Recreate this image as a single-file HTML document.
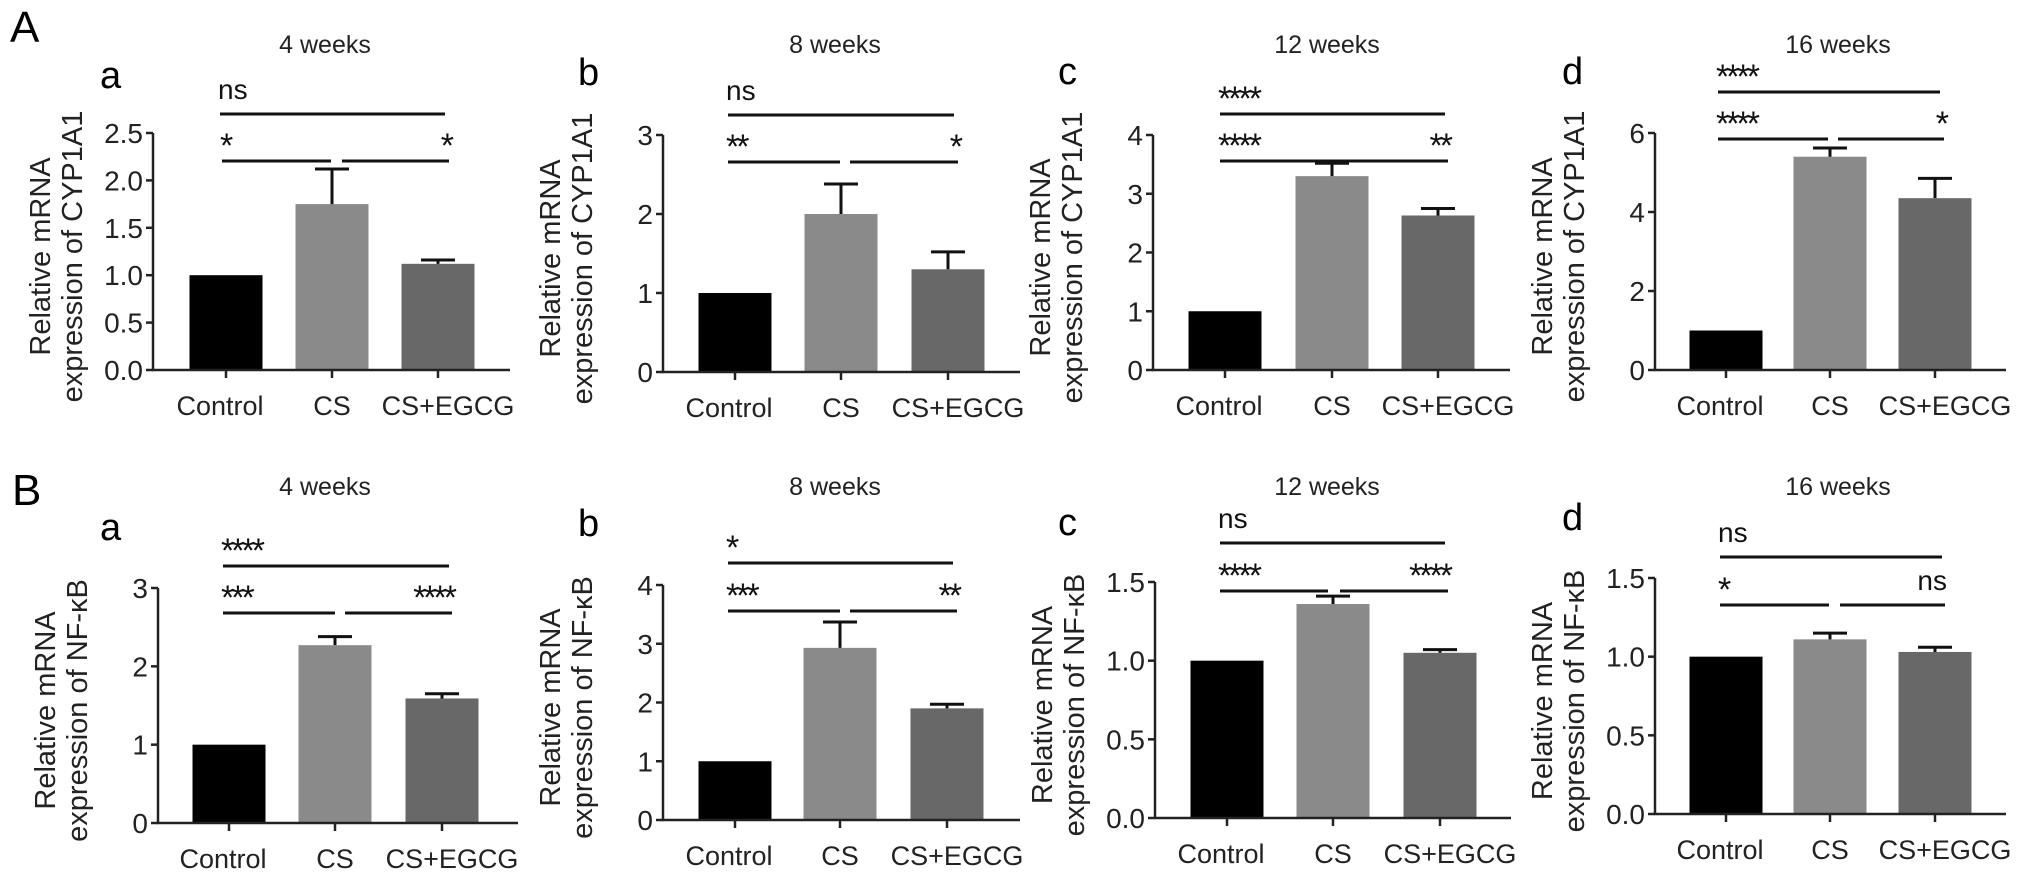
<!DOCTYPE html>
<html><head><meta charset="utf-8">
<style>
html,body{margin:0;padding:0;background:#fff;}
svg{display:block;font-family:"Liberation Sans",Arial,sans-serif;}
</style></head>
<body>
<svg id="fig" width="2032" height="876" viewBox="0 0 2032 876" xmlns="http://www.w3.org/2000/svg">
<text x="10" y="42" font-size="44">A</text>
<text x="12" y="505" font-size="44">B</text>
</svg>
<script>
const categories = ["Control", "CS", "CS+EGCG"];
const barColors = ["#000000", "#8a8a8a", "#686868"];
// values
const valsAa = [1.0, 1.75, 1.12]; const errAa = [0, 0.37, 0.04];
const valsAb = [1.0, 2.0, 1.3];   const errAb = [0, 0.38, 0.22];
const valsAc = [1.0, 3.3, 2.63];  const errAc = [0, 0.22, 0.12];
const valsAd = [1.0, 5.4, 4.35];  const errAd = [0, 0.22, 0.5];
const valsBa = [1.0, 2.27, 1.59]; const errBa = [0, 0.11, 0.06];
const valsBb = [1.0, 2.93, 1.9];  const errBb = [0, 0.44, 0.07];
const valsBc = [1.0, 1.36, 1.05]; const errBc = [0, 0.05, 0.02];
const valsBd = [1.0, 1.11, 1.03]; const errBd = [0, 0.04, 0.03];
// ticks
const ticksAa = ["0.0","0.5","1.0","1.5","2.0","2.5"];
const ticksAb = ["0","1","2","3"];
const ticksAc = ["0","1","2","3","4"];
const ticksAd = ["0","2","4","6"];
const ticksBa = ["0","1","2","3"];
const ticksBb = ["0","1","2","3","4"];
const ticksBc = ["0.0","0.5","1.0","1.5"];
const ticksBd = ["0.0","0.5","1.0","1.5"];
// significance labels [top, left, right]
const sigAa = ["ns","*","*"];
const sigAb = ["ns","**","*"];
const sigAc = ["****","****","**"];
const sigAd = ["****","****","*"];
const sigBa = ["****","***","****"];
const sigBb = ["*","***","**"];
const sigBc = ["ns","****","****"];
const sigBd = ["ns","*","ns"];
const titles = ["4 weeks","8 weeks","12 weeks","16 weeks"];
const letters = ["a","b","c","d"];

const NS = "http://www.w3.org/2000/svg";
const svg = document.getElementById('fig');
function mk(tag, attrs, parent){
  const e = document.createElementNS(NS, tag);
  for (const k in attrs) e.setAttribute(k, attrs[k]);
  (parent||svg).appendChild(e);
  return e;
}

const panels = [
 {id:"Aa",vals:valsAa,err:errAa,ticks:ticksAa,sig:sigAa,ax:153,yt:133,y0:370,cx:[226,332,438],end:510,l1:114,l2:161,gap:true,l2x:[222,331,342,449],l1x:[220,445],title:0,gene:"CYP1A1",ty:53,tx:325,ly:88,lx:100},
 {id:"Ab",vals:valsAb,err:errAb,ticks:ticksAb,sig:sigAb,ax:663,yt:135,y0:372,cx:[735,841,948],end:1020,l1:115,l2:162,gap:true,l2x:[728,840,850,958],l1x:[728,954],title:1,gene:"CYP1A1",ty:53,tx:835,ly:85,lx:578},
 {id:"Ac",vals:valsAc,err:errAc,ticks:ticksAc,sig:sigAc,ax:1153,yt:135,y0:370,cx:[1225,1332,1438],end:1510,l1:114,l2:161,gap:false,l2x:[1220,1448],l1x:[1220,1445],title:2,gene:"CYP1A1",ty:53,tx:1327,ly:84,lx:1058},
 {id:"Ad",vals:valsAd,err:errAd,ticks:ticksAd,sig:sigAd,ax:1655,yt:133,y0:370,cx:[1726,1830,1935],end:2006,l1:92,l2:139,gap:true,l2x:[1718,1828,1838,1944],l1x:[1718,1940],title:3,gene:"CYP1A1",ty:53,tx:1838,ly:84,lx:1562},
 {id:"Ba",vals:valsBa,err:errBa,ticks:ticksBa,sig:sigBa,ax:158,yt:588,y0:823,cx:[229,335,442],end:518,l1:566,l2:613,gap:true,l2x:[223,335,345,452],l1x:[223,449],title:0,gene:"NF-κB",ty:495,tx:325,ly:540,lx:100},
 {id:"Bb",vals:valsBb,err:errBb,ticks:ticksBb,sig:sigBb,ax:663,yt:585,y0:820,cx:[735,840,947],end:1020,l1:563,l2:611,gap:true,l2x:[728,840,850,957],l1x:[728,953],title:1,gene:"NF-κB",ty:495,tx:835,ly:536,lx:578},
 {id:"Bc",vals:valsBc,err:errBc,ticks:ticksBc,sig:sigBc,ax:1155,yt:582,y0:818,cx:[1227,1333,1440],end:1511,l1:543,l2:591,gap:true,l2x:[1220,1328,1340,1448],l1x:[1220,1445],title:2,gene:"NF-κB",ty:495,tx:1327,ly:535,lx:1058},
 {id:"Bd",vals:valsBd,err:errBd,ticks:ticksBd,sig:sigBd,ax:1655,yt:578,y0:814,cx:[1726,1830,1935],end:2006,l1:557,l2:605,gap:true,l2x:[1720,1829,1840,1945],l1x:[1720,1942],title:3,gene:"NF-κB",ty:495,tx:1838,ly:530,lx:1562}
];

panels.forEach(p=>{
  const g = mk('g',{});
  
  
  const tmax = parseFloat(p.ticks[p.ticks.length-1]);
  const y = v => p.y0 - (v/tmax)*(p.y0-p.yt);
  const bw = 73;
  const tt = mk('text',{x:p.tx, y:p.ty, 'font-size':25,'text-anchor':'middle',fill:'#222'},g);
  tt.textContent = titles[p.title];
  
  
  const lt = mk('text',{x:p.lx,y:p.ly,'font-size':38},g);
  lt.textContent = letters[p.title];
  
  
  p.vals.forEach((v,i)=>{
    const r = mk('rect',{x:p.cx[i]-bw/2,y:y(v),width:bw,height:p.y0-y(v),fill:barColors[i]},g);
    
    
    if (p.err[i]>0){
      const e = mk('path',{d:`M${p.cx[i]} ${y(v)} V${y(v+p.err[i])} M${p.cx[i]-17} ${y(v+p.err[i])} H${p.cx[i]+17}`,stroke:'#111','stroke-width':3,fill:'none'},g);
      
      
    }
  });
  const axes = mk('path',{d:`M${p.ax} ${p.yt} V${p.y0} H${p.end}`,stroke:'#222','stroke-width':2.5,fill:'none'},g);
  
  
  p.ticks.forEach(t=>{
    const ty = y(parseFloat(t));
    mk('line',{x1:p.ax-7,x2:p.ax,y1:ty,y2:ty,stroke:'#222','stroke-width':2.5},g);
    const tl = mk('text',{x:p.ax-10,y:ty+10,'font-size':28,'text-anchor':'end',fill:'#222'},g);
    tl.textContent = t;
    
    
  });
  categories.forEach((c,i)=>{
    mk('line',{x1:p.cx[i],x2:p.cx[i],y1:p.y0,y2:p.y0+8,stroke:'#222','stroke-width':2.5},g);
    const cl = mk('text',{x:p.cx[i]+(i===0?-6:(i===2?10:0)),y:p.y0+45,'font-size':27,'text-anchor':'middle',fill:'#222'},g);
    cl.textContent = c;
    
    
  });
  const cy = (p.yt+p.y0)/2 + 5;
  const yt = mk('text',{transform:`translate(${p.ax-103},${cy}) rotate(-90)`,'font-size':29,'text-anchor':'middle',fill:'#222'},g);
  const s1 = mk('tspan',{x:0,dy:0},yt); s1.textContent = "Relative mRNA";
  const s2 = mk('tspan',{x:0,dy:32},yt); s2.textContent = "expression of "+p.gene;
  
  
  const b1 = mk('line',{x1:p.l1x[0],x2:p.l1x[1],y1:p.l1,y2:p.l1,stroke:'#111','stroke-width':3},g);
  
  
  if (p.gap){
    const a1 = mk('line',{x1:p.l2x[0],x2:p.l2x[1],y1:p.l2,y2:p.l2,stroke:'#111','stroke-width':3},g);
    
    
    const a2 = mk('line',{x1:p.l2x[2],x2:p.l2x[3],y1:p.l2,y2:p.l2,stroke:'#111','stroke-width':3},g);
    
    
  } else {
    const a3 = mk('line',{x1:p.l2x[0],x2:p.l2x[1],y1:p.l2,y2:p.l2,stroke:'#111','stroke-width':3},g);
    
    
  }
  const lab = (txt,x,line,anchor)=>{
    const isNs = txt==='ns';
    const t = mk('text',{x:x,y:isNs?line-15:line-4,'font-size':isNs?28:34,'text-anchor':anchor,fill:'#111','letter-spacing':isNs?0:-3},g);
    t.textContent = txt;
    
    
  };
  lab(p.sig[0], p.l1x[0]-2, p.l1, 'start');
  lab(p.sig[1], p.l2x[0]-2, p.l2, 'start');
  lab(p.sig[2], p.l2x[p.l2x.length-1]+2, p.l2, 'end');
});
</script>
</body></html>
